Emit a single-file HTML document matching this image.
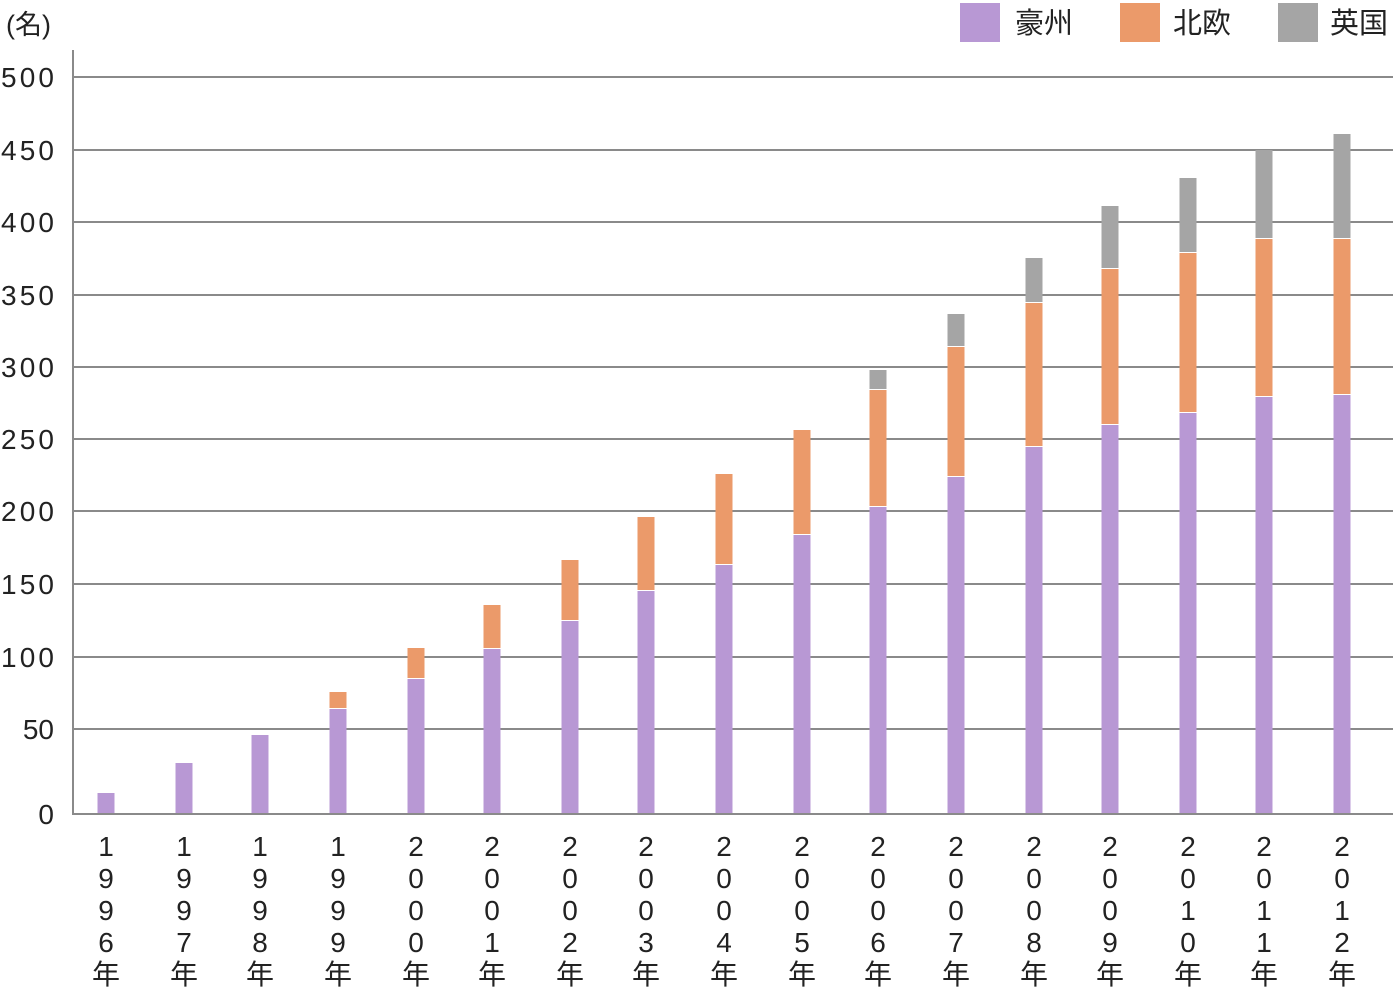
<!DOCTYPE html>
<html><head><meta charset="utf-8"><style>body{margin:0;background:#fff}svg{display:block}text{font-family:"Liberation Sans","Noto Sans CJK JP",sans-serif;fill:#222}</style></head><body>
<svg width="1396" height="994" xmlns="http://www.w3.org/2000/svg">
<g stroke="#8a8a8a" stroke-width="2">
<line x1="73" y1="77" x2="1393" y2="77"/><line x1="73" y1="150" x2="1393" y2="150"/><line x1="73" y1="222" x2="1393" y2="222"/><line x1="73" y1="295" x2="1393" y2="295"/><line x1="73" y1="367" x2="1393" y2="367"/><line x1="73" y1="439" x2="1393" y2="439"/><line x1="73" y1="511" x2="1393" y2="511"/><line x1="73" y1="584" x2="1393" y2="584"/><line x1="73" y1="657" x2="1393" y2="657"/><line x1="73" y1="729" x2="1393" y2="729"/><line x1="73" y1="814" x2="1393" y2="814"/><line x1="73" y1="50" x2="73" y2="815"/>
</g>
<g font-size="28" text-anchor="end" textLength="53">
<text x="54" y="87" textLength="53">500</text><text x="54" y="160" textLength="53">450</text><text x="54" y="232" textLength="53">400</text><text x="54" y="305" textLength="53">350</text><text x="54" y="377" textLength="53">300</text><text x="54" y="449" textLength="53">250</text><text x="54" y="521" textLength="53">200</text><text x="54" y="594" textLength="53">150</text><text x="54" y="667" textLength="53">100</text><text x="54" y="739">50</text><text x="54" y="824">0</text>
</g>
<text x="6" y="34" font-size="27">(名)</text>
<rect x="960" y="3" width="40" height="39" fill="#b898d4"/><text x="1015" y="33" font-size="29">豪州</text>
<rect x="1120" y="3" width="40" height="39" fill="#eb9a6a"/><text x="1173" y="33" font-size="29">北欧</text>
<rect x="1278" y="3" width="40" height="39" fill="#a5a5a5"/><text x="1330" y="33" font-size="29">英国</text>
<g id="bars"></g>
<g id="labels" font-size="28" text-anchor="middle"></g>
<script>
var d=[[106,"1996",793],[184,"1997",763],[260,"1998",735],[338,"1999",709,692],[416,"2000",679,648],[492,"2001",649,605],[570,"2002",621,560],[646,"2003",591,517],[724,"2004",565,474],[802,"2005",535,430],[878,"2006",507,390,370],[956,"2007",477,347,314],[1034,"2008",447,303,258],[1110,"2009",425,269,206],[1188,"2010",413,253,178],[1264,"2011",397,239,150],[1342,"2012",395,239,134]];
var ns="http://www.w3.org/2000/svg",b=document.getElementById("bars"),l=document.getElementById("labels");
function r(x,y1,y2,c){var e=document.createElementNS(ns,"rect");e.setAttribute("x",x-8.5);e.setAttribute("y",y1);e.setAttribute("width",17);e.setAttribute("height",y2-y1);e.setAttribute("fill",c);b.appendChild(e);}
d.forEach(function(a){var x=a[0];r(x,a[2],813,"#b898d4");if(a[3])r(x,a[3],a[2]-1,"#eb9a6a");if(a[4])r(x,a[4],a[3]-1,"#a5a5a5");
var s=a[1]+"年";for(var i=0;i<5;i++){var t=document.createElementNS(ns,"text");t.setAttribute("x",x);t.setAttribute("y",856+i*32);t.textContent=s[i];l.appendChild(t);}});
</script>
</svg></body></html>
